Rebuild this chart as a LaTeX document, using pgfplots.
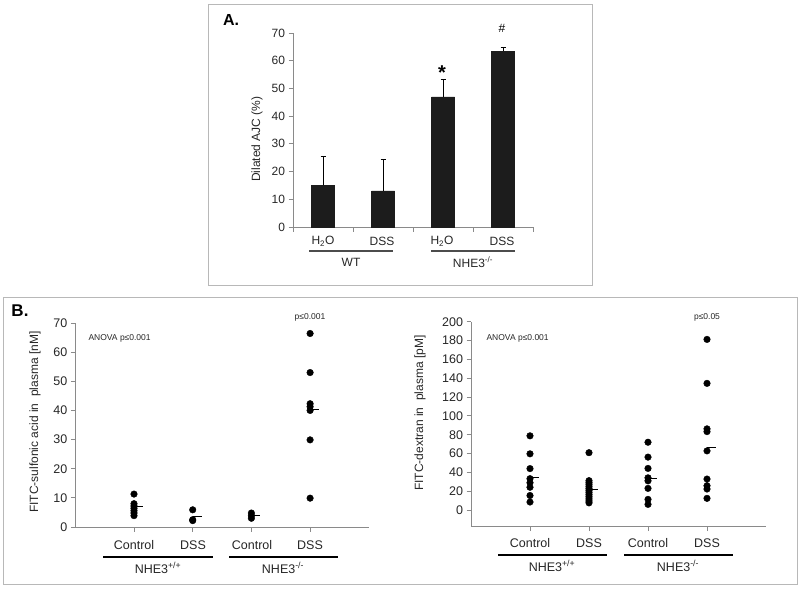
\documentclass[border=0pt]{standalone}
\usepackage{fontspec}
\setmainfont{Liberation Sans}
\usepackage{pgfplots}
\pgfplotsset{compat=1.18}
\definecolor{axgray}{HTML}{8A8A8A}
\definecolor{boxgray}{HTML}{B8B8B8}
\definecolor{barblk}{HTML}{1C1C1C}
\definecolor{txt}{HTML}{262626}
\newcommand{\fs}[1]{\fontsize{#1}{#1}\selectfont}
\pgfplotsset{
  panel/.style={scale only axis, anchor=south west, clip=false,
    axis lines*=left, axis line style={axgray,-,line width=0.8pt},
    tick style={axgray,line width=0.8pt}, tick align=outside, major tick length=4.5pt,
    /pgf/number format/assume math mode=true, xticklabels={}},
  dots/.style={only marks, mark=*, mark size=3.3pt, black},
  med/.style={black, line width=1pt, mark=none}
}
\begin{document}
\begin{tikzpicture}[x=1pt,y=1pt]
\path[use as bounding box] (0,0) rectangle (800,-589);
\draw[boxgray, line width=1pt] (208,-4) rectangle (592,-285);
\draw[boxgray, line width=1pt] (3,-297) rectangle (797,-584);

% ---------------- Panel A ----------------
\begin{axis}[panel, at={(293pt,-227pt)}, width=240pt, height=194pt,
  xmin=-0.5, xmax=3.5, ymin=0, ymax=70,
  xtick={-0.5,0.5,1.5,2.5,3.5}, ytick={0,10,...,70},
  yticklabel style={font=\fs{12}, text=txt}]
\addplot[ybar, bar width=23pt, fill=barblk, draw=barblk,
  error bars/.cd, y dir=plus, y explicit,
  error bar style={black, line width=0.7pt},
  error mark options={rotate=90, mark size=2.5pt, black, line width=0.7pt}]
  coordinates {(0,15) +- (0,10.5) (1,13) +- (0,11.3) (2,47) +- (0,6.3) (3,63.5) +- (0,1.2)};
\end{axis}
\node[font=\bfseries\fs{16}] at (231,-20) {A.};
\node[rotate=90, font=\fs{12}, text=txt] at (257,-139) {Dilated AJC (\%)};
\node[font=\bfseries\fs{20}] at (442,-73) {*};
\node[font=\fs{12}] at (502,-28) {\#};
\foreach \x/\t in {323/H\textsubscript{2}O, 382/DSS, 442/H\textsubscript{2}O, 502/DSS}
  \node[font=\fs{12}, text=txt] at (\x,-241) {\t};
\draw[gray!60!black, line width=1.2pt] (309,-251) -- (393,-251);
\draw[gray!60!black, line width=1.2pt] (431,-251) -- (515,-251);
\node[font=\fs{12}, text=txt] at (351,-262) {WT};
\node[font=\fs{12}, text=txt] at (473,-262) {NHE3\textsuperscript{-/-}};

% ---------------- Panel B left ----------------
\begin{axis}[panel, at={(75.3pt,-527pt)}, width=293.5pt, height=204pt,
  xmin=0, xmax=5, ymin=0, ymax=70,
  xtick={1,2,3,4}, ytick={0,10,...,70},
  yticklabel style={font=\fs{12.5}, text=txt}]
\addplot[dots] coordinates {(1,11.3) (1,8.0) (1,7.2) (1,6.4) (1,5.6) (1,4.8) (1,3.9)};
\addplot[dots] coordinates {(2,5.9) (2,2.5) (2,2.2)};
\addplot[dots] coordinates {(3,4.8) (3,3.9) (3,3.0)};
\addplot[dots] coordinates {(4,66.4) (4,53.0) (4,42.3) (4,41.3) (4,40.0) (4,29.9) (4,9.9)};
\addplot[med] coordinates {(1,6.9) (1.16,6.9)};
\addplot[med] coordinates {(2,3.6) (2.15,3.6)};
\addplot[med] coordinates {(3,3.8) (3.15,3.8)};
\addplot[med] coordinates {(4,40.4) (4.15,40.4)};
\end{axis}
\node[font=\bfseries\fs{17}] at (20,-311) {B.};
\node[rotate=90, font=\fs{12}, text=txt] at (35,-422) {FITC-sulfonic acid in \ plasma [nM]};
\node[anchor=west, font=\fs{8.5}, text=txt] at (85,-338) {ANOVA p≤0.001};
\node[font=\fs{8.5}, text=txt] at (310,-317) {p≤0.001};
\foreach \x/\t in {134/Control, 193/DSS, 252/Control, 310/DSS}
  \node[font=\fs{12.5}, text=txt] at (\x,-545) {\t};
\draw[black, line width=2.6pt] (103,-557) -- (213,-557);
\draw[black, line width=2.6pt] (229,-557) -- (338,-557);
\node[font=\fs{12.5}, text=txt] at (158,-568) {NHE3\textsuperscript{+/+}};
\node[font=\fs{12.5}, text=txt] at (283,-568) {NHE3\textsuperscript{-/-}};

% ---------------- Panel B right ----------------
\begin{axis}[panel, at={(471pt,-526.5pt)}, width=295pt, height=204.8pt,
  xmin=0, xmax=5, ymin=-17.5, ymax=200,
  xtick={1,2,3,4}, ytick={0,20,...,200},
  yticklabel style={font=\fs{12.5}, text=txt}]
\addplot[dots] coordinates {(1,78.8) (1,59.7) (1,44.0) (1,33.3) (1,29.0) (1,24.2) (1,15.4) (1,8.5)};
\addplot[dots] coordinates {(2,60.9) (2,31.2) (2,29.0) (2,27.0) (2,24.8) (2,22.6) (2,20.5) (2,18.4) (2,16.2) (2,14.0) (2,11.8) (2,9.6) (2,7.6)};
\addplot[dots] coordinates {(3,72.0) (3,56.2) (3,44.2) (3,34.2) (3,31.0) (3,23.0) (3,11.3) (3,6.0)};
\addplot[dots] coordinates {(4,181.2) (4,134.5) (4,86.2) (4,83.3) (4,62.8) (4,32.9) (4,25.8) (4,22.3) (4,12.4)};
\addplot[med] coordinates {(1,34.5) (1.15,34.5)};
\addplot[med] coordinates {(2,21.3) (2.15,21.3)};
\addplot[med] coordinates {(3,34.0) (3.15,34.0)};
\addplot[med] coordinates {(4,66.3) (4.15,66.3)};
\end{axis}
\node[rotate=90, font=\fs{12}, text=txt] at (420,-413) {FITC-dextran in \ plasma [pM]};
\node[anchor=west, font=\fs{8.5}, text=txt] at (483,-338) {ANOVA p≤0.001};
\node[font=\fs{8.5}, text=txt] at (707,-317) {p≤0.05};
\foreach \x/\t in {530/Control, 589/DSS, 648/Control, 707/DSS}
  \node[font=\fs{12.5}, text=txt] at (\x,-543) {\t};
\draw[black, line width=2.6pt] (498,-555) -- (607,-555);
\draw[black, line width=2.6pt] (624,-555) -- (733,-555);
\node[font=\fs{12.5}, text=txt] at (552,-566) {NHE3\textsuperscript{+/+}};
\node[font=\fs{12.5}, text=txt] at (678,-566) {NHE3\textsuperscript{-/-}};
\end{tikzpicture}
\end{document}
